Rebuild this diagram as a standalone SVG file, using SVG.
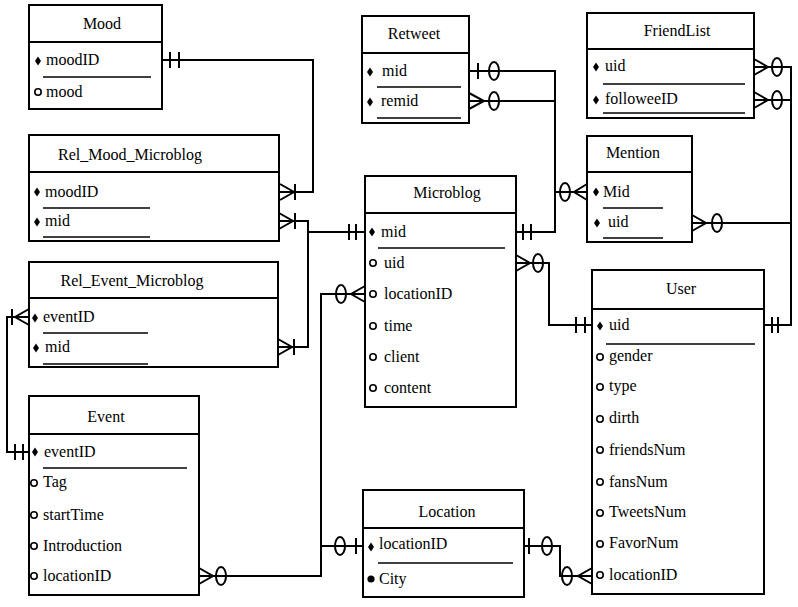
<svg xmlns="http://www.w3.org/2000/svg" xmlns:xlink="http://www.w3.org/1999/xlink" width="798" height="607" viewBox="0 0 798 607">
<style>
.box{fill:#fff;stroke:#000;stroke-width:2}
.div{stroke:#000;stroke-width:2}
.ul{stroke:#000;stroke-width:1.6}
.t{font-family:"Liberation Serif","Times New Roman",serif;font-size:16px;fill:#000}
.tt{text-anchor:middle}
.cn{fill:none;stroke:#000;stroke-width:2}
.mk{fill:none;stroke:#000;stroke-width:2}
</style>
<defs>
<path id="dia" d="M0,-4.5 L3,0 L0,4.5 L-3,0Z" fill="#000"/>
<circle id="opt" r="3.2" fill="#fff" stroke="#000" stroke-width="1.6"/>
<circle id="dot" r="3.6" fill="#000"/>
<ellipse id="zero" rx="5" ry="9" fill="none" stroke="#000" stroke-width="2"/>
</defs>
<rect width="798" height="607" fill="#fff"/>

<g id="connectors">
<path class="cn" d="M162,60 H313 V192 H280"/>
<path class="mk" d="M170,52 V68 M179,52 V68 M280,184 L294,192 L280,200 M295,184 V200"/>

<path class="cn" d="M279,221 H308 V347 H278 M308,232 H365"/>
<path class="mk" d="M279,213 L293,221 L279,229 M295,213 V229 M278,339 L292,347 L278,355 M294,339 V355 M349,224 V240 M356,224 V240"/>

<path class="cn" d="M29,317 H7 V452 H29"/>
<path class="mk" d="M29,309 L15,317 L29,325 M12,309 V325 M15,444 V460 M23,444 V460"/>

<path class="cn" d="M516,232 H555 V71 H469 M469,101 H555 M555,192 H587"/>
<path class="mk" d="M523,224 V240 M531,224 V240 M478,63 V79 M469,93 L484,101 L469,109 M587,184 L574,192 L587,200"/>
<use xlink:href="#zero" x="494" y="71"/>
<use xlink:href="#zero" x="494" y="101"/>
<use xlink:href="#zero" x="565" y="192"/>

<path class="cn" d="M516,263 H549 V325 H592"/>
<path class="mk" d="M516,255 L530,263 L516,271 M576,317 V333 M585,317 V333"/>
<use xlink:href="#zero" x="538" y="263"/>

<path class="cn" d="M365,294 H321 V576 H199 M321,546 H363"/>
<path class="mk" d="M365,286 L351,294 L365,302 M199,568 L213,576 L199,584 M356,538 V554"/>
<use xlink:href="#zero" x="341" y="294"/>
<use xlink:href="#zero" x="221" y="576"/>
<use xlink:href="#zero" x="340" y="546"/>

<path class="cn" d="M524,546 H560 V576 H592"/>
<path class="mk" d="M529,538 V554 M592,568 L578,576 L592,584"/>
<use xlink:href="#zero" x="547" y="546"/>
<use xlink:href="#zero" x="567" y="576"/>

<path class="cn" d="M764,325 H791 V67 H754 M754,100 H791 M692,223 H791"/>
<path class="mk" d="M772,317 V333 M778,317 V333 M754,59 L768,67 L754,75 M754,92 L768,100 L754,108 M692,215 L706,223 L692,231"/>
<use xlink:href="#zero" x="777" y="67"/>
<use xlink:href="#zero" x="777" y="100"/>
<use xlink:href="#zero" x="717" y="223"/>
</g>

<g id="Mood">
<rect class="box" x="29" y="5" width="133" height="104"/>
<line class="div" x1="29" y1="42" x2="162" y2="42"/>
<text class="t tt" x="102" y="29">Mood</text>
<use xlink:href="#dia" x="38" y="61"/><text class="t" x="46" y="65">moodID</text>
<line class="ul" x1="43" y1="77" x2="151" y2="77"/>
<use xlink:href="#opt" x="38" y="92"/><text class="t" x="46" y="97">mood</text>
</g>

<g id="Rel_Mood_Microblog">
<rect class="box" x="29" y="135" width="250" height="106"/>
<line class="div" x1="29" y1="172" x2="279" y2="172"/>
<text class="t tt" x="130" y="160">Rel_Mood_Microblog</text>
<use xlink:href="#dia" x="37" y="192"/><text class="t" x="45" y="197">moodID</text>
<line class="ul" x1="43" y1="208" x2="150" y2="208"/>
<use xlink:href="#dia" x="37" y="222"/><text class="t" x="45" y="226">mid</text>
<line class="ul" x1="43" y1="237" x2="150" y2="237"/>
</g>

<g id="Rel_Event_Microblog">
<rect class="box" x="29" y="262" width="249" height="105"/>
<line class="div" x1="29" y1="298" x2="278" y2="298"/>
<text class="t tt" x="132" y="286">Rel_Event_Microblog</text>
<use xlink:href="#dia" x="35" y="318"/><text class="t" x="43" y="322">eventID</text>
<line class="ul" x1="43" y1="333" x2="148" y2="333"/>
<use xlink:href="#dia" x="36" y="348"/><text class="t" x="45" y="352">mid</text>
<line class="ul" x1="43" y1="364" x2="148" y2="364"/>
</g>

<g id="Event">
<rect class="box" x="29" y="396" width="170" height="199"/>
<line class="div" x1="29" y1="434" x2="199" y2="434"/>
<text class="t tt" x="106" y="422">Event</text>
<use xlink:href="#dia" x="35" y="452"/><text class="t" x="44" y="457">eventID</text>
<line class="ul" x1="43" y1="468" x2="187" y2="468"/>
<use xlink:href="#opt" x="34" y="483"/><text class="t" x="43" y="487">Tag</text>
<use xlink:href="#opt" x="34" y="515"/><text class="t" x="43" y="520">startTime</text>
<use xlink:href="#opt" x="34" y="546"/><text class="t" x="43" y="551">Introduction</text>
<use xlink:href="#opt" x="34" y="576"/><text class="t" x="43" y="581">locationID</text>
</g>

<g id="Microblog">
<rect class="box" x="365" y="176" width="151" height="231"/>
<line class="div" x1="365" y1="213" x2="516" y2="213"/>
<text class="t tt" x="447" y="198">Microblog</text>
<use xlink:href="#dia" x="372" y="232"/><text class="t" x="381" y="237">mid</text>
<line class="ul" x1="378" y1="248" x2="505" y2="248"/>
<use xlink:href="#opt" x="373" y="263"/><text class="t" x="384" y="268">uid</text>
<use xlink:href="#opt" x="373" y="294"/><text class="t" x="384" y="299">locationID</text>
<use xlink:href="#opt" x="373" y="326"/><text class="t" x="384" y="331">time</text>
<use xlink:href="#opt" x="373" y="357"/><text class="t" x="384" y="362">client</text>
<use xlink:href="#opt" x="373" y="388"/><text class="t" x="384" y="393">content</text>
</g>

<g id="Retweet">
<rect class="box" x="362" y="16" width="107" height="107"/>
<line class="div" x1="362" y1="53" x2="469" y2="53"/>
<text class="t tt" x="414" y="39">Retweet</text>
<use xlink:href="#dia" x="370" y="72"/><text class="t" x="382" y="76">mid</text>
<line class="ul" x1="377" y1="87" x2="461" y2="87"/>
<use xlink:href="#dia" x="370" y="102"/><text class="t" x="381" y="106">remid</text>
<line class="ul" x1="377" y1="118" x2="461" y2="118"/>
</g>

<g id="FriendList">
<rect class="box" x="587" y="13" width="167" height="105"/>
<line class="div" x1="587" y1="49" x2="754" y2="49"/>
<text class="t tt" x="677" y="36">FriendList</text>
<use xlink:href="#dia" x="596" y="67"/><text class="t" x="605" y="71">uid</text>
<line class="ul" x1="603" y1="84" x2="745" y2="84"/>
<use xlink:href="#dia" x="596" y="100"/><text class="t" x="605" y="104">followeeID</text>
<line class="ul" x1="603" y1="113" x2="745" y2="113"/>
</g>

<g id="Mention">
<rect class="box" x="587" y="136" width="105" height="106"/>
<line class="div" x1="587" y1="172" x2="692" y2="172"/>
<text class="t tt" x="633" y="158">Mention</text>
<use xlink:href="#dia" x="596" y="192"/><text class="t" x="603" y="197">Mid</text>
<line class="ul" x1="603" y1="208" x2="663" y2="208"/>
<use xlink:href="#dia" x="597" y="223"/><text class="t" x="608" y="227">uid</text>
<line class="ul" x1="603" y1="238" x2="663" y2="238"/>
</g>

<g id="User">
<rect class="box" x="592" y="270" width="172" height="324"/>
<line class="div" x1="592" y1="309" x2="764" y2="309"/>
<text class="t tt" x="681" y="294">User</text>
<use xlink:href="#dia" x="600" y="326"/><text class="t" x="609" y="330">uid</text>
<line class="ul" x1="606" y1="344" x2="755" y2="344"/>
<use xlink:href="#opt" x="600" y="357"/><text class="t" x="609" y="361">gender</text>
<use xlink:href="#opt" x="600" y="387"/><text class="t" x="609" y="391">type</text>
<use xlink:href="#opt" x="600" y="419"/><text class="t" x="609" y="423">dirth</text>
<use xlink:href="#opt" x="600" y="450"/><text class="t" x="609" y="455">friendsNum</text>
<use xlink:href="#opt" x="600" y="482"/><text class="t" x="609" y="487">fansNum</text>
<use xlink:href="#opt" x="600" y="513"/><text class="t" x="609" y="517">TweetsNum</text>
<use xlink:href="#opt" x="600" y="544"/><text class="t" x="609" y="548">FavorNum</text>
<use xlink:href="#opt" x="600" y="575"/><text class="t" x="609" y="580">locationID</text>
</g>

<g id="Location">
<rect class="box" x="363" y="490" width="161" height="107"/>
<line class="div" x1="363" y1="528" x2="524" y2="528"/>
<text class="t tt" x="447" y="517">Location</text>
<use xlink:href="#dia" x="371" y="547"/><text class="t" x="379" y="549">locationID</text>
<line class="ul" x1="378" y1="563" x2="513" y2="563"/>
<use xlink:href="#dot" x="371" y="579"/><text class="t" x="379" y="584">City</text>
</g>
</svg>
